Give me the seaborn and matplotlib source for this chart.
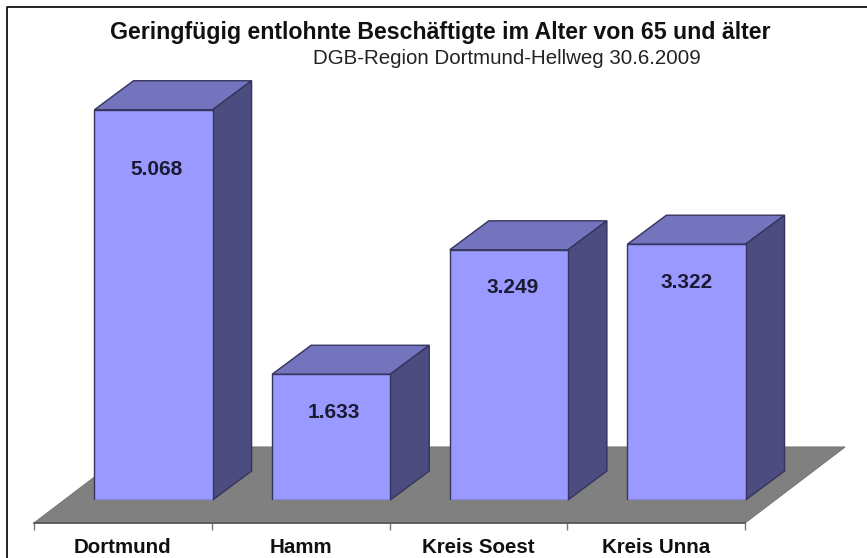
import matplotlib
matplotlib.use("Agg")
import matplotlib.pyplot as plt
from matplotlib.lines import Line2D
from matplotlib.patches import Polygon
from matplotlib.transforms import IdentityTransform
import seaborn as sns

regions = ["Dortmund", "Hamm", "Kreis Soest", "Kreis Unna"]
employees = [5068, 1633, 3249, 3322]
value_labels = ["5.068", "1.633", "3.249", "3.322"]
label_drop = [60, 38, 38, 38]      # px below the bar top
label_shift = [3, 3, 4, 0]         # px right of the bar centre

W, H = 867, 558
sns.set_style("white")
plt.rcParams["font.family"] = ["Liberation Sans", "DejaVu Sans"]

FRONT, TOP, SIDE = "#9999FF", "#7373BE", "#4C4C80"
EDGE = "#34345C"
BAR_DEPTH = (39, 29)
FLOOR_DEPTH = (100, 76)


def box(left, top, right, bottom):
    return [left / W, 1 - bottom / H, (right - left) / W, (bottom - top) / H]


fig = plt.figure(figsize=(W / 100, H / 100), dpi=100, facecolor="white")

# floor and category axis
base = fig.add_axes(box(34, 447, 745, 523), facecolor="none")
base.set_xlim(-0.5, 3.5)
base.set_ylim(0, 1)
base.set_yticks([])
sns.despine(ax=base, left=True)
base.spines["bottom"].set_color("#555555")
base.spines["bottom"].set_linewidth(1.2)
base.set_xticks([i - 0.5 for i in range(len(regions) + 1)])
base.set_xticklabels([])
base.set_xticks(range(len(regions)), regions, minor=True, fontweight="bold",
                fontsize=14.8, color="#111111")
base.tick_params(axis="x", which="major", bottom=True, length=5, width=1, color="#777777")
base.tick_params(axis="x", which="minor", bottom=False, length=0, pad=11)

(x0, y0), (x1, _) = base.transData.transform([(-0.5, 0), (3.5, 0)])
base.add_patch(Polygon(
    [(x0, y0), (x1, y0), (x1 + FLOOR_DEPTH[0], y0 + FLOOR_DEPTH[1]),
     (x0 + FLOOR_DEPTH[0], y0 + FLOOR_DEPTH[1])],
    closed=True, facecolor="#808080", edgecolor="#777777", linewidth=0.8,
    transform=IdentityTransform(), clip_on=False, zorder=1))

# bars sit further back on the floor
ax = fig.add_axes(box(64.7, 60, 775.3, 500), facecolor="none")
sns.barplot(x=regions, y=employees, ax=ax, color=FRONT, saturation=1, width=0.665,
            edgecolor=EDGE, linewidth=1.0, zorder=3)
ax.set_xlim(-0.5, 3.5)
ax.set_ylim(0, 440 / 0.0770)
ax.axis("off")

dx, dy = BAR_DEPTH
for bar, text, drop, shift in zip(ax.patches, value_labels, label_drop, label_shift):
    (l, b), (r, t) = ax.transData.transform(
        [(bar.get_x(), 0), (bar.get_x() + bar.get_width(), bar.get_height())])
    top_face = [(l, t), (r, t), (r + dx, t + dy), (l + dx, t + dy)]
    side_face = [(r, b), (r + dx, b + dy), (r + dx, t + dy), (r, t)]
    ax.add_patch(Polygon(top_face, closed=True, facecolor=TOP, edgecolor=EDGE, linewidth=1.0,
                         transform=IdentityTransform(), clip_on=False, zorder=2))
    ax.add_patch(Polygon(side_face, closed=True, facecolor=SIDE, edgecolor=EDGE, linewidth=1.0,
                         transform=IdentityTransform(), clip_on=False, zorder=2))
    ax.annotate(text, xy=((l + r) / 2 + shift, t - drop), xycoords="figure pixels",
                ha="center", va="center", fontweight="bold", fontsize=15, color="#1A1A33",
                zorder=4)

fig.text(440 / W, 1 - 32 / H, "Geringfügig entlohnte Beschäftigte im Alter von 65 und älter",
         ha="center", va="center", fontweight="bold", fontsize=16.7, color="#111111")
fig.text(506.5 / W, 1 - 58 / H, "DGB-Region Dortmund-Hellweg 30.6.2009",
         ha="center", va="center", fontsize=14.8, color="#222222")

# picture frame, open to the right and bottom
fig.add_artist(Line2D([7 / W, 7 / W, 1], [0, 1 - 7 / H, 1 - 7 / H], color="black", linewidth=1.2))

fig.savefig("out.png", dpi=100)
